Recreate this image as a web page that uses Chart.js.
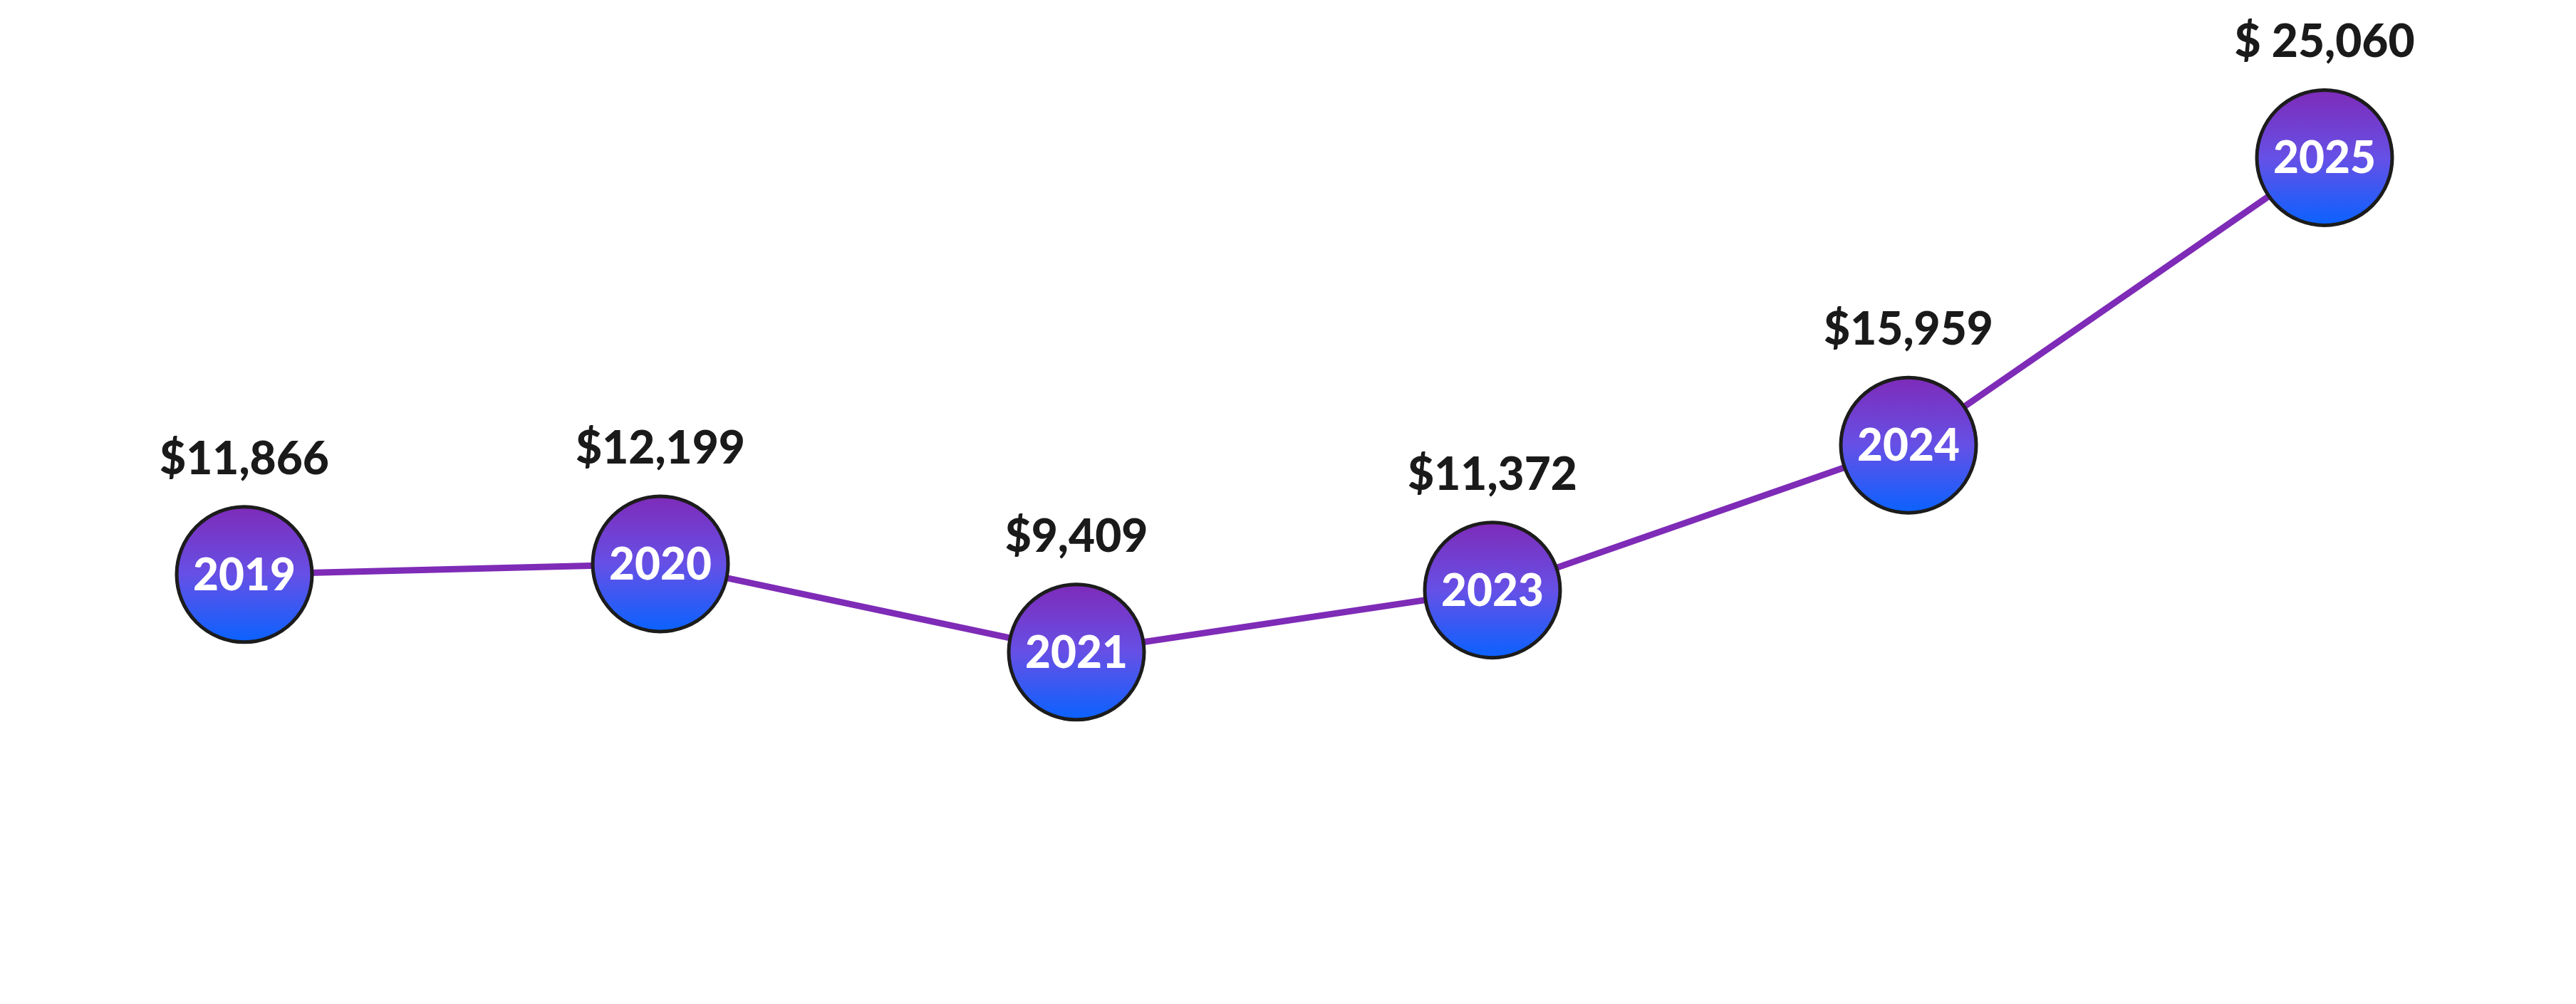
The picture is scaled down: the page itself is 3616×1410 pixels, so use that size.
<!DOCTYPE html>
<html>
<head>
<meta charset="utf-8">
<script src="https://cdn.jsdelivr.net/npm/chart.js@4.4.1/dist/chart.umd.min.js"></script>
<style>
  html, body { margin: 0; padding: 0; background: #ffffff; }
  #wrap { width: 3616px; height: 1410px; }
</style>
</head>
<body>
<div id="wrap"><canvas id="myChart" width="3616" height="1410"></canvas></div>
<script>
// datos del grafico
var years = ['2019', '2020', '2021', '2023', '2024', '2025'];
var amounts = [11866, 12199, 9409, 11372, 15959, 25060];
var amountLabels = ['$11,866', '$12,199', '$9,409', '$11,372', '$15,959', '$ 25,060'];

var POINT_R = 95;
var FONT = 'Lato, "Noto Sans", sans-serif';

// relleno degradado de cada circulo, calculado con las escalas del grafico
function pointFill(context) {
    var chart = context.chart;
    var ys = chart.scales.y;
    var v = context.parsed ? context.parsed.y : undefined;
    if (!ys || v === undefined) return '#6650e6';
    var y = ys.getPixelForValue(v);
    if (!isFinite(y)) return '#6650e6';
    var g = chart.ctx.createLinearGradient(0, y - POINT_R, 0, y + POINT_R);
    g.addColorStop(0, '#7e2bb9');
    g.addColorStop(0.5, '#6650e6');
    g.addColorStop(1, '#0a62ff');
    return g;
}

// textos: año dentro del circulo y monto encima
var labelsPlugin = {
    id: 'labelsPlugin',
    afterDatasetsDraw: function (chart) {
        var ctx = chart.ctx;
        var meta = chart.getDatasetMeta(0);
        ctx.save();
        ctx.textAlign = 'center';
        meta.data.forEach(function (pt, i) {
            ctx.fillStyle = '#ffffff';
            ctx.font = '900 62px ' + FONT;
            ctx.textBaseline = 'middle';
            ctx.fillText(years[i], pt.x, pt.y + 2);

            ctx.fillStyle = '#1a1a1a';
            ctx.font = '900 64px ' + FONT;
            ctx.textBaseline = 'alphabetic';
            ctx.fillText(amountLabels[i], pt.x, pt.y - 141);
        });
        ctx.restore();
    }
};

var ctx = document.getElementById('myChart').getContext('2d');
var myChart = new Chart(ctx, {
    type: 'line',
    data: {
        labels: years,
        datasets: [{
            data: amounts,
            borderColor: '#7e2bb7',
            borderWidth: 9,
            tension: 0,
            fill: false,
            pointRadius: POINT_R,
            pointHoverRadius: POINT_R,
            pointBorderWidth: 5,
            pointBorderColor: '#1c1c1c',
            pointBackgroundColor: pointFill,
            clip: false
        }]
    },
    options: {
        responsive: false,
        animation: false,
        events: [],
        layout: { autoPadding: false, padding: { left: 343, right: 353, top: 0, bottom: 0 } },
        scales: {
            x: { display: false, offset: false },
            y: { display: false, min: -1733, max: 30052 }
        },
        plugins: {
            legend: { display: false },
            tooltip: { enabled: false }
        }
    },
    plugins: [labelsPlugin]
});
</script>
</body>
</html>
